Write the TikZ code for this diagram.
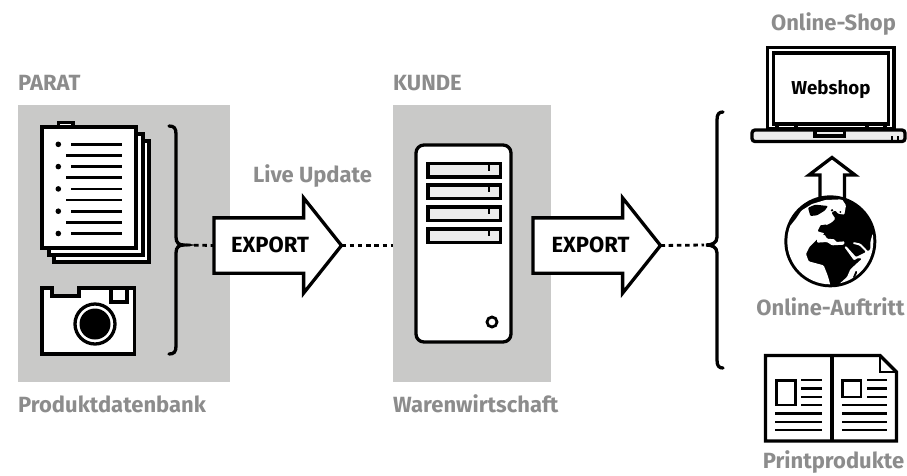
\documentclass[tikz,border=0pt]{standalone}
\usepackage{fontspec}
\setmainfont{Fira Sans}
\usetikzlibrary{shapes.arrows}
\definecolor{blockgray}{HTML}{C9C9C8}
\definecolor{labelgray}{HTML}{8C8C8C}
\definecolor{keygray}{HTML}{ECECEC}
\tikzset{
	block/.style = {fill = blockgray, inner sep = 0, outer sep = 0},
	caption/.style = {text = labelgray, font = \fontsize{22}{22}\selectfont\bfseries, inner sep = 0},
	inlabel/.style = {text = black, font = \fontsize{22}{22}\selectfont\bfseries, inner sep = 0},
	icon/.style = {draw, line width = 3.3pt, fill = white},
	rule/.style = {line width = 2.8pt},
	brace/.style = {line width = 3.3pt, line cap = round},
	dotted link/.style = {line width = 2.8pt, dash pattern = on 4.5pt off 3.7pt},
	exportarrow/.style = {single arrow, draw, fill = white, line width = 3.3pt, anchor = tip,
		inner xsep = 0, inner ysep = 26pt, outer sep = 0, minimum height = 127.5pt, minimum width = 92pt,
		single arrow head extend = 20pt, single arrow tip angle = 103, single arrow head indent = 0}
}

\begin{document}
\begin{tikzpicture}[x = 1pt, y = -1pt, line join = miter]
\useasboundingbox (0, 0) rectangle (907, 475);

% Grey blocks

\node [block, minimum width = 212pt, minimum height = 277pt] (parat) at (124, 243.5) {};
\node [block, minimum width = 158pt, minimum height = 277pt] (kunde) at (472, 243.5) {};

% Captions

\node [caption, anchor = base west] (paratlabel) at (18, 90) {PARAT};
\node [caption, anchor = base west] (kundelabel) at (393, 90) {KUNDE};
\node [caption, anchor = base west] (datenbank) at (18, 412) {Produktdatenbank};
\node [caption, anchor = base west] (wawi) at (393, 412) {Warenwirtschaft};
\node [caption, anchor = base] (update) at (312.5, 182) {Live Update};
\node [caption, anchor = base] (shop) at (833.5, 30) {Online-Shop};
\node [caption, anchor = base] (auftritt) at (830.5, 315) {Online-Auftritt};
\node [caption, anchor = base] (print) at (833.5, 468) {Printprodukte};

% Document stack

\draw [icon] (58.5, 122.5) rectangle (73, 130);
\draw [icon] (54, 141) rectangle (149, 262);
\draw [icon] (49, 134) rectangle (143, 255);
\draw [icon] (42, 127) rectangle (136, 248);
\foreach \i in {0, 2, 4, 6, 8} {
	\fill (58.3, {144.3 + \i * 11.15}) circle (2.8);
	\draw [rule] (71, {144.3 + \i * 11.15}) -- (122, {144.3 + \i * 11.15});
}
\foreach \i in {1, 3, 5, 7} {
	\draw [rule] (66, {144.3 + \i * 11.15}) -- (122, {144.3 + \i * 11.15});
}

% Camera

\draw [icon] (42, 288) -- (52, 288) -- (52, 296) -- (79, 296) -- (79, 288) -- (134.5, 288)
	-- (134.5, 354) -- (42, 354) -- cycle;
\draw [icon] (111, 288) rectangle (127, 302);
\draw [icon] (95, 324) circle (20);
\fill (95, 324) circle (15.5);

% Left brace

\draw [brace] (169, 126) .. controls (174, 126) and (176, 128) .. (176, 134) -- (176, 237)
	.. controls (176, 243) and (179, 245) .. (184, 245) .. controls (179, 245) and (176, 247) .. (176, 253)
	-- (176, 346) .. controls (176, 352) and (174, 354) .. (169, 354);
\coordinate (bracea) at (186, 245);

% Arrows

\node [exportarrow] (exporta) at (341.5, 245.5) {};
\node [inlabel, anchor = base] (exporttexta) at (270, 252) {EXPORT};
\node [exportarrow] (exportb) at (660.5, 245.5) {};
\node [inlabel, anchor = base] (exporttextb) at (590.5, 252) {EXPORT};

% Server

\draw [icon, rounded corners = 8pt] (416, 145) rectangle (511, 342);
\foreach \y in {163.5, 185, 207, 229} {
	\draw [icon, fill = keygray] (428, \y) rectangle (500.5, {\y + 13.5});
	\draw [rule] (489, \y) -- (489, {\y + 7});
}
\draw [rule] (492, 322) circle (5);

% Right brace

\draw [brace] (723, 112) .. controls (719, 112) and (717, 114) .. (717, 120) -- (717, 237)
	.. controls (717, 243) and (712, 245) .. (706, 245) .. controls (712, 245) and (717, 247) .. (717, 253)
	-- (717, 360) .. controls (717, 366) and (719, 368) .. (723, 368);
\coordinate (braceb) at (704, 245);

% Dotted links

\draw [dotted link] (bracea) -- (exporta.tail);
\draw [dotted link] (exporta.tip) -- (kunde.west |- exporta.tip);
\draw [dotted link] (exportb.tip) -- (braceb);

% Laptop

\draw [icon] (767.5, 47.5) rectangle (894, 129);
\draw [icon] (773.5, 53) rectangle (888.5, 124);
\node [inlabel, font = \fontsize{18.7}{18.7}\selectfont\bfseries, anchor = base] (webshop) at (831, 94) {Webshop};
\draw [icon] (777, 124) rectangle (796, 129);
\draw [icon] (867, 124) rectangle (885, 129);
\draw [icon, fill = keygray, rounded corners = 3pt] (752, 130) -- (905, 130) -- (905, 141.5) -- (752, 141.5) -- cycle;
\draw [icon, fill = keygray] (815, 130) rectangle (844.5, 136);
\draw [line width = 2pt] (892, 136) -- (892, 140) (897.5, 136) -- (897.5, 140);

% Up arrow and globe

\draw [icon] (820, 198) -- (820, 175) -- (809, 175) -- (832, 157.5) -- (855, 175) -- (844.5, 175) -- (844.5, 198);
\begin{scope}[shift = {(782, 192)}, x = 0.3333pt, y = -0.3333pt]
	\fill (145, 148) circle (138);
	\begin{scope}[rounded corners = 1pt]
		\clip (145, 148) circle (129);
		% Atlantic
		\fill [white] (-10, 120) -- (22, 105) -- (42, 80) -- (58, 56) -- (90, 36) -- (130, 24) -- (180, 22)
			-- (192, 40) -- (187, 68) -- (168, 65) -- (160, 55) -- (148, 62) -- (160, 80) -- (148, 92)
			-- (132, 100) -- (116, 98) -- (106, 118) -- (128, 124) -- (105, 142) -- (82, 165) -- (72, 186)
			-- (80, 208) -- (125, 220) -- (135, 245) -- (140, 260) -- (150, 300) -- (-10, 300) -- cycle;
		% Mediterranean
		\fill [white] (105, 130) -- (128, 128) -- (135, 140) -- (158, 142) -- (162, 150) -- (188, 148)
			-- (186, 158) -- (150, 160) -- (135, 150) -- (105, 152) -- cycle;
		% Indian Ocean
		\fill [white] (272, 125) -- (300, 125) -- (300, 300) -- (160, 300) -- (165, 282) -- (195, 255) -- (205, 232)
			-- (240, 200) -- (228, 198) -- (216, 205) -- (187, 165) -- (192, 162) -- (222, 195) -- (252, 180)
			-- (232, 160) -- (212, 155) -- (214, 150) -- (236, 155) -- (258, 178) -- (265, 172) -- (265, 150) -- cycle;
		% Greenland and islands
		\fill (78, 47) -- (100, 38) -- (138, 42) -- (128, 56) -- (105, 70) -- (85, 72) -- cycle;
		\fill (150, 55) circle (4);
		\fill (175, 60) circle (3);
		\fill (116, 100) -- (135, 97) -- (130, 110) -- (118, 112) -- cycle;
		\fill (212, 258) -- (222, 235) -- (226, 240) -- (216, 262) -- cycle;
	\end{scope}
\end{scope}

% Print products

\draw [icon] (765.5, 355.5) -- (880, 355.5) -- (896.5, 372) -- (896.5, 441) -- (765.5, 441) -- cycle;
\draw [rule] (880, 355.5) -- (880, 372) -- (896.5, 372);
\draw [line width = 3.3pt] (832, 355.5) -- (832, 441);
\draw [rule] (776.5, 380.5) rectangle (795.5, 405);
\draw [rule] (842.5, 380.5) rectangle (861, 397);
\foreach \y in {380, 388.5, 397, 405} {
	\draw [rule] (801, \y) -- (822, \y);
}
\foreach \y in {413.5, 422, 430} {
	\draw [rule] (775, \y) -- (822, \y);
}
\foreach \y in {380, 388.5, 397} {
	\draw [rule] (867, \y) -- (887, \y);
}
\foreach \y in {405, 413.5, 422, 430} {
	\draw [rule] (842, \y) -- (887, \y);
}

\end{tikzpicture}
\end{document}
